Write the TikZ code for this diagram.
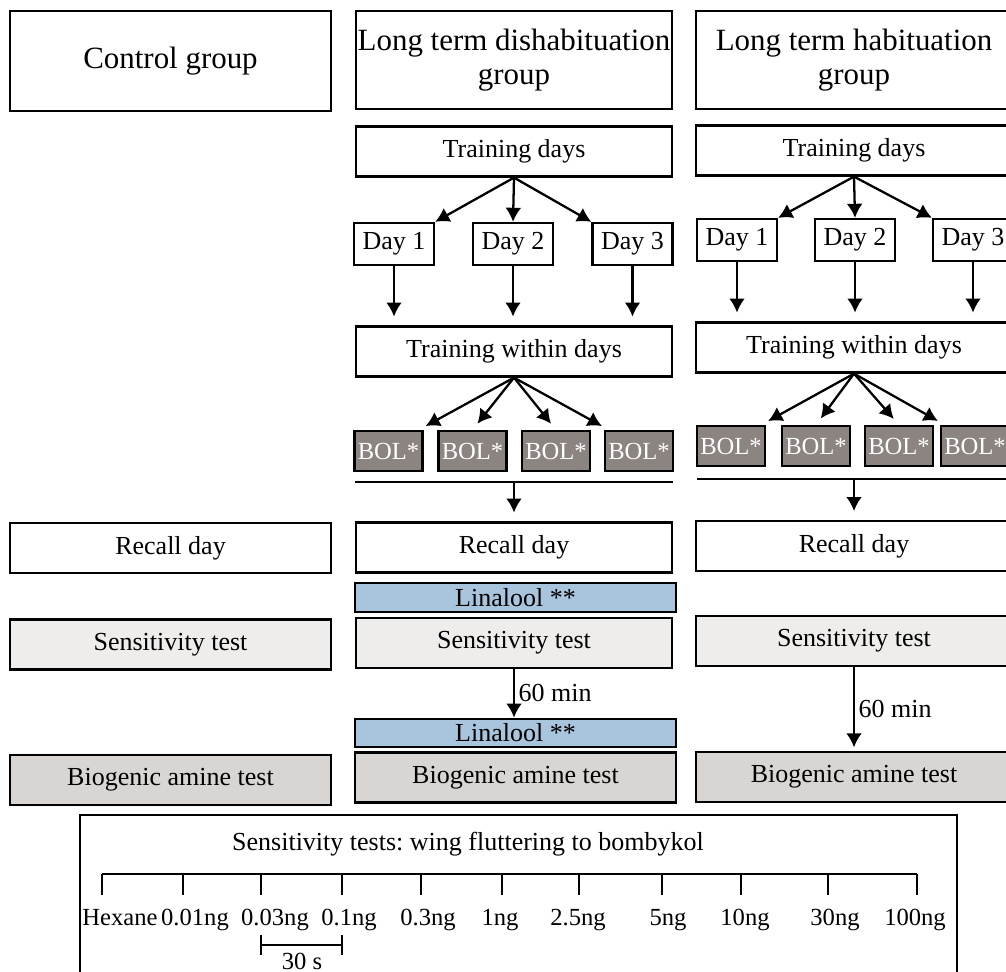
\documentclass[tikz,border=0pt]{standalone}
\usepackage{fontspec}
\setmainfont{Liberation Serif}
\usepackage{tikz}
\usetikzlibrary{arrows.meta}
\frenchspacing

\definecolor{bolgrey}{HTML}{8B8480}
\definecolor{linblue}{HTML}{A9C5DD}
\definecolor{biogrey}{HTML}{D9D5D2}
\definecolor{sensgrey}{HTML}{EEEDEC}

\newcommand{\hdfont}{\fontsize{17.6}{19.5}\selectfont}
\newcommand{\bdfont}{\fontsize{14.8}{17}\selectfont}
\newcommand{\smfont}{\fontsize{14}{16}\selectfont}

\tikzstyle{grpbox}=[draw, line width=1.3pt, minimum width=6.32cm, minimum height=1.96cm, inner sep=0pt, align=center, font=\hdfont]
\tikzstyle{stepbox}=[draw, line width=1.3pt, minimum width=6.32cm, minimum height=1cm, inner sep=0pt, font=\bdfont]
\tikzstyle{daybox}=[draw, line width=1.3pt, minimum width=1.6cm, minimum height=0.84cm, inner sep=0pt, font=\bdfont]
\tikzstyle{bolbox}=[draw, line width=1.3pt, fill=bolgrey, text=white, minimum width=1.36cm, minimum height=0.8cm, inner sep=0pt, font=\smfont]
\tikzstyle{linbox}=[stepbox, fill=linblue, minimum width=6.42cm, minimum height=0.57cm]
\tikzstyle{conn}=[line width=1.3pt, -{Latex[length=8pt,width=9pt]}]

\begin{document}
\begin{tikzpicture}[x=0.02cm, y=-0.02cm]
\useasboundingbox (0,0) rectangle (1006,972);

% control group
\node[grpbox, minimum width=6.42cm, minimum height=2cm] (ctrl) at (170.5,61) {Control group};
\node[stepbox, minimum width=6.42cm] (ctrlrec) at (170.5,548) {Recall day};
\node[stepbox, minimum width=6.42cm, fill=sensgrey] (ctrlsens) at (170.5,644.5) {Sensitivity test};
\node[stepbox, minimum width=6.42cm, fill=biogrey] (ctrlbio) at (170.5,780) {Biogenic amine test};

% long term dishabituation
\node[grpbox] (dis) at (514,60) {Long term dishabituation\\group};
\node[stepbox] (distd) at (514,151.5) {Training days};
\node[daybox] (disd1) at (394,244) {Day 1};
\node[daybox] (disd2) at (513,244) {Day 2};
\node[daybox] (disd3) at (632.5,244) {Day 3};
\node[stepbox] (distw) at (514,351.5) {Training within days};
\foreach \x [count=\i] in {388.5,472.5,556,639}
  \node[bolbox] (disb\i) at (\x,451) {BOL*};
\coordinate (disbarl) at (355,482);
\coordinate (disbarr) at (673,482);
\node[stepbox] (disrec) at (514,547.5) {Recall day};
\node[linbox] (dislin1) at (515.5,597.5) {Linalool **};
\node[stepbox, fill=sensgrey] (dissens) at (514,643) {Sensitivity test};
\node[linbox] (dislin2) at (515.5,733) {Linalool **};
\node[stepbox, fill=biogrey, minimum width=6.42cm] (disbio) at (515.5,777.5) {Biogenic amine test};

\draw[conn] (distd.south) -- (disd1.north east);
\draw[conn] (distd.south) -- (disd2.north);
\draw[conn] (distd.south) -- (disd3.north west);
\foreach \i in {1,2,3}
  \draw[conn, shorten >=5pt] (disd\i.south) -- (disd\i.south |- distw.north);
\draw[conn, shorten >=4.5pt] (distw.south) -- (disb1.35);
\draw[conn, shorten >=4.5pt] (distw.south) -- (disb2.north);
\draw[conn, shorten >=4.5pt] (distw.south) -- (disb3.north);
\draw[conn, shorten >=4.5pt] (distw.south) -- (disb4.145);
\draw[line width=1.3pt] (disbarl) -- (disbarr);
\draw[conn, shorten >=5pt] (disbarl -| disrec.north) -- (disrec.north);
\draw[conn] (dissens.south) -- node[right, inner sep=2pt, font=\bdfont] {60 min} (dissens.south |- dislin2.north);

% long term habituation
\node[grpbox] (hab) at (854,60) {Long term habituation\\group};
\node[stepbox] (habtd) at (854,150.5) {Training days};
\node[daybox] (habd1) at (737,240) {Day 1};
\node[daybox] (habd2) at (855,240) {Day 2};
\node[daybox] (habd3) at (973,240) {Day 3};
\node[stepbox] (habtw) at (854,347.5) {Training within days};
\foreach \x [count=\i] in {731,816,899,975}
  \node[bolbox] (habb\i) at (\x,446) {BOL*};
\coordinate (habbarl) at (697,479);
\coordinate (habbarr) at (1012,479);
\node[stepbox] (habrec) at (854,546) {Recall day};
\node[stepbox, fill=sensgrey] (habsens) at (854,641) {Sensitivity test};
\node[stepbox, fill=biogrey] (habbio) at (854,777) {Biogenic amine test};

\draw[conn] (habtd.south) -- (habd1.north east);
\draw[conn] (habtd.south) -- (habd2.north);
\draw[conn] (habtd.south) -- (habd3.north west);
\foreach \i in {1,2,3}
  \draw[conn, shorten >=5pt] (habd\i.south) -- (habd\i.south |- habtw.north);
\draw[conn, shorten >=4.5pt] (habtw.south) -- (habb1.35);
\draw[conn, shorten >=4.5pt] (habtw.south) -- (habb2.north);
\draw[conn, shorten >=4.5pt] (habtw.south) -- (habb3.north);
\draw[conn, shorten >=4.5pt] (habtw.south) -- (habb4.145);
\draw[line width=1.3pt] (habbarl) -- (habbarr);
\draw[conn, shorten >=5pt] (habbarl -| habrec.north) -- (habrec.north);
\draw[conn, shorten >=2pt] (habsens.south) -- node[right, inner sep=2pt, font=\bdfont] {60 min} (habbio.north);

% sensitivity test panel
\node[draw, line width=1.3pt, minimum width=17.54cm, minimum height=3.2cm, inner sep=0pt] (panel) at (518.5,895) {};
\node[font=\bdfont, anchor=base] (ptitle) at (468,850) {Sensitivity tests: wing fluttering to bombykol};
\draw[line width=1.3pt] (102,874) -- (917,874);
\foreach \x in {102,183,261,342,421,502,579,662,741,828,917}
  \draw[line width=1.3pt] (\x,874) -- (\x,895);
\foreach \x/\t [count=\i] in {120/Hexane,195/0.01ng,275/0.03ng,349/0.1ng,428/0.3ng,500/1ng,578/2.5ng,668/5ng,745/10ng,835/30ng,915/100ng}
  \node[font=\smfont, anchor=base] (dose\i) at (\x,925) {\t};
\draw[line width=1.3pt] (261,945) -- (342,945);
\draw[line width=1.3pt] (261,935) -- (261,955);
\draw[line width=1.3pt] (342,935) -- (342,955);
\node[font=\smfont, anchor=base] (gap) at (302,969) {30 s};
\end{tikzpicture}
\end{document}
